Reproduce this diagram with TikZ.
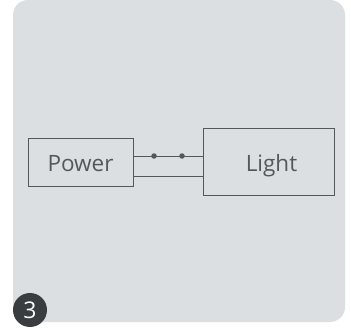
\documentclass[tikz,border=0pt]{standalone}
\usepackage{fontspec}
\setmainfont{Open Sans}
\definecolor{panel}{HTML}{DBDFE1}
\definecolor{ink}{HTML}{53585B}
\definecolor{badge}{HTML}{3A3D40}
\tikzset{
  x=1pt,y=-1pt,
  unitbox/.style={draw=ink,line width=0.9pt,inner sep=0pt,text=ink,font=\fontsize{22.5}{26}\selectfont},
  wire/.style={draw=ink,line width=0.9pt},
  wiredot/.style={circle,fill=ink,inner sep=0pt,minimum size=5.5pt},
  badgecircle/.style={circle,fill=badge,text=white,inner sep=0pt,minimum size=34pt,font=\fontsize{23}{26}\selectfont}
}
\begin{document}
\begin{tikzpicture}
\useasboundingbox (0,0) rectangle (351,329);
\fill[white] (0,0) rectangle (351,329);
\fill[panel,rounded corners=15pt] (13,0) rectangle (345,322);
\node[unitbox,minimum width=105pt,minimum height=48pt,text height=18pt,text depth=0pt] (power) at (80.5,162) {Power};
\node[unitbox,minimum width=131pt,minimum height=67pt,text height=19pt,text depth=0pt] (light) at (268.5,161.5) {\hspace*{6pt}Light};
\coordinate (pt) at (power.east |- 0,156);
\coordinate (lt) at (light.west |- 0,156);
\coordinate (pb) at (power.east |- 0,176);
\coordinate (lb) at (light.west |- 0,176);
\draw[wire] (pt) -- (lt);
\draw[wire] (pb) -- (lb);
\node[wiredot] (d1) at (154,156) {};
\node[wiredot] (d2) at (182,156) {};
\node[badgecircle] (num) at (30,310) {3};
\end{tikzpicture}
\end{document}
